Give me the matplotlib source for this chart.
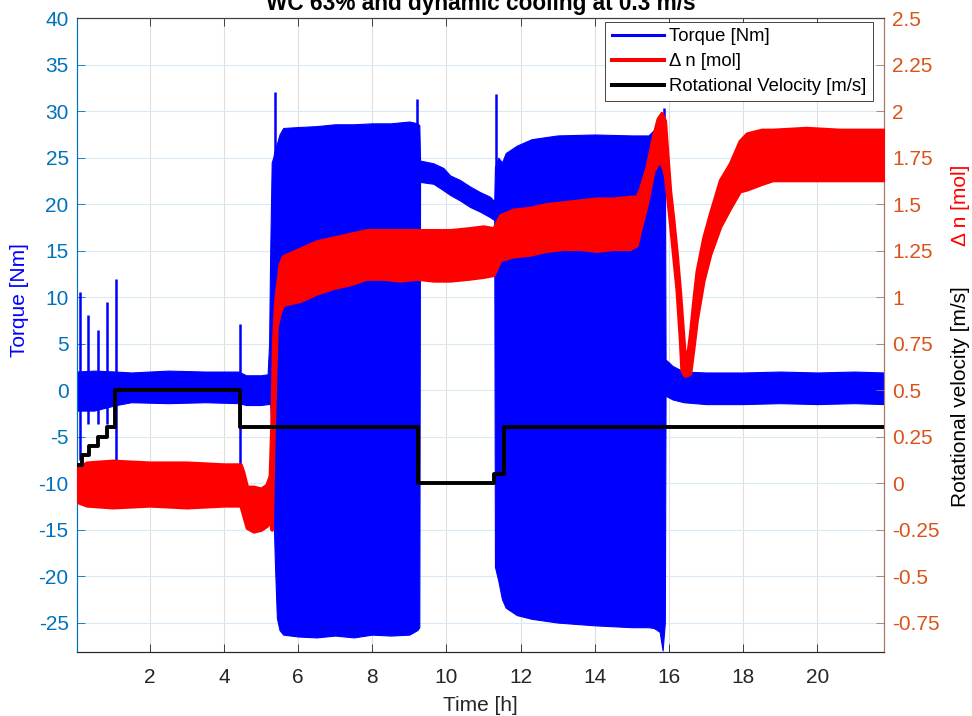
import matplotlib
matplotlib.use('Agg')
import matplotlib.pyplot as plt
from matplotlib.lines import Line2D

plt.rcParams['font.family'] = ['Liberation Sans', 'DejaVu Sans']
plt.rcParams['axes.unicode_minus'] = False

# ---------------- data ----------------
# Torque [Nm]: envelope of the dense oscillating signal
torque_t = [0.04, 0.5, 1.1, 1.5, 2.5, 3.5, 4.4, 4.6, 5.0, 5.18, 5.22, 5.25, 5.29, 5.33,
            5.38, 5.43, 5.5, 5.6, 6.0, 6.5, 7.0, 7.5, 8.0, 8.5, 9.0, 9.22, 9.27,
            9.29, 9.65, 9.92, 10.10, 10.37, 10.64, 10.91, 11.18, 11.29,
            11.31, 11.4, 11.5, 11.6, 11.9, 12.3, 13.0, 14.0, 15.0, 15.45, 15.6,
            15.75, 15.83, 15.89, 15.91, 16.1, 16.4, 17.0, 18.0, 19.0, 20.0, 21.0, 21.8]
torque_hi = [2.0, 2.1, 2.0, 1.9, 2.1, 2.0, 2.0, 1.6, 1.6, 1.7, 5.0, 15.0, 24.5, 25.0,
             26.0, 26.5, 27.5, 28.2, 28.3, 28.4, 28.6, 28.6, 28.7, 28.7, 28.9, 28.7, 28.5,
             24.7, 24.4, 23.9, 23.1, 22.6, 21.9, 21.3, 20.8, 20.3,
             24.0, 25.0, 24.5, 25.5, 26.3, 27.0, 27.4, 27.5, 27.4, 27.4, 28.0,
             29.0, 29.5, 28.5, 3.3, 2.6, 2.0, 1.9, 1.9, 2.0, 1.9, 2.0, 1.9]
torque_lo = [-2.2, -2.2, -1.6, -1.3, -1.4, -1.3, -1.4, -1.6, -1.6, -1.5, -1.5, -1.5, -5.0, -12.0,
             -19.0, -24.5, -25.8, -26.3, -26.5, -26.6, -26.4, -26.6, -26.3, -26.4, -26.3, -25.8, -25.5,
             22.4, 22.2, 21.5, 21.0, 20.4, 19.7, 19.2, 18.6, 18.3,
             -19.0, -20.5, -22.5, -23.4, -24.2, -24.6, -25.0, -25.3, -25.5, -25.5, -25.6,
             -26.0, -28.0, -25.0, -0.6, -1.0, -1.3, -1.5, -1.5, -1.4, -1.5, -1.4, -1.5]
# Torque [Nm]: isolated spikes
spike_t = [0.11, 0.35, 0.60, 0.84, 1.08, 4.44, 5.38, 9.22, 11.33, 15.86]
spike_hi = [10.6, 8.1, 6.5, 9.5, 12.0, 7.1, 32.1, 31.3, 31.9, 30.3]
spike_lo = [-7.5, -3.6, -3.6, -3.6, -7.6, -8.5, 25.0, 25.0, 23.0, 25.0]

# Delta n [mol]: envelope
dn_t = [0.04, 0.3, 1.0, 2.0, 3.0, 4.0, 4.45, 4.52, 4.62, 4.8, 5.0, 5.15, 5.24, 5.29,
        5.33, 5.38, 5.42, 5.51, 5.60, 6.05, 6.50, 6.95, 7.40, 7.85, 8.30, 8.75, 9.20,
        9.65, 10.10, 10.6, 11.0, 11.27, 11.45, 11.8, 12.26, 12.7, 13.15, 13.6, 14.05,
        14.5, 14.95, 15.13, 15.22, 15.40, 15.58, 15.70, 15.80, 15.89, 15.94, 16.03,
        16.12, 16.21, 16.30, 16.34, 16.41, 16.48, 16.57, 16.66, 16.75, 16.93, 17.11,
        17.38, 17.65, 17.91, 18.1, 18.5, 18.8, 19.7, 20.6, 21.8]
dn_hi = [0.08, 0.11, 0.12, 0.11, 0.11, 0.10, 0.10, 0.06, -0.02, -0.02, -0.03, -0.01, 0.04, 0.36,
         0.76, 0.96, 1.04, 1.18, 1.22, 1.26, 1.30, 1.32, 1.34, 1.36, 1.36, 1.36, 1.36,
         1.36, 1.36, 1.37, 1.38, 1.37, 1.44, 1.47, 1.48, 1.50, 1.51, 1.52, 1.53,
         1.53, 1.54, 1.54, 1.58, 1.70, 1.87, 1.96, 1.99, 1.95, 1.81, 1.57,
         1.41, 1.23, 1.02, 0.91, 0.72, 0.66, 0.80, 0.98, 1.14, 1.32, 1.45,
         1.63, 1.72, 1.84, 1.88, 1.90, 1.90, 1.91, 1.90, 1.90]
dn_lo = [-0.10, -0.12, -0.13, -0.12, -0.13, -0.12, -0.12, -0.17, -0.24, -0.26, -0.25, -0.23, -0.20, -0.25,
         0.19, 0.56, 0.84, 0.92, 0.96, 0.98, 1.02, 1.05, 1.07, 1.10, 1.10, 1.09, 1.10,
         1.09, 1.09, 1.10, 1.11, 1.12, 1.20, 1.22, 1.23, 1.25, 1.26, 1.26, 1.25,
         1.26, 1.26, 1.28, 1.36, 1.50, 1.68, 1.72, 1.72, 1.66, 1.57, 1.40,
         1.22, 1.04, 0.77, 0.61, 0.58, 0.58, 0.59, 0.73, 0.88, 1.09, 1.23,
         1.38, 1.48, 1.57, 1.58, 1.61, 1.63, 1.63, 1.63, 1.63]

# Rotational velocity [m/s]: step signal
vel_t = [0.05, 0.17, 0.37, 0.61, 0.84, 1.07, 4.44, 9.24, 11.28, 11.55, 21.8]
vel_v = [0.1, 0.15, 0.2, 0.25, 0.3, 0.5, 0.3, 0.0, 0.05, 0.3, 0.3]

x_ticks = [2, 4, 6, 8, 10, 12, 14, 16, 18, 20]
left_ticks = [-25, -20, -15, -10, -5, 0, 5, 10, 15, 20, 25, 30, 35, 40]
right_ticks = [-0.75, -0.5, -0.25, 0, 0.25, 0.5, 0.75, 1, 1.25, 1.5, 1.75, 2, 2.25, 2.5]

# ---------------- styling ----------------
BLUE = '#0000FF'
RED = '#FF0000'
LEFT_C = '#0072BD'
RIGHT_C = '#D95319'
AX_C = '#262626'

fig = plt.figure(figsize=(9.72, 7.16), dpi=100)
ax = fig.add_axes([77 / 972, (716 - 652.3) / 716, 807 / 972, 634 / 716])
ax2 = ax.twinx()

ax.fill_between(torque_t, torque_lo, torque_hi, color=BLUE, lw=0.8, edgecolor=BLUE, zorder=2)
ax.vlines(spike_t, spike_lo, spike_hi, color=BLUE, lw=1.8, zorder=2)

ax2.fill_between(dn_t, dn_lo, dn_hi, color=RED, lw=2.5, edgecolor=RED, zorder=3)
ax2.step(vel_t, vel_v, where='post', color='black', lw=2.8, zorder=4)

ax.set_xlim(0.04, 21.8)
ax.set_ylim(-28.2, 40)
ax2.set_ylim(-28.2 / 20 + 0.5, 2.5)

ax.set_xticks(x_ticks)
ax.set_yticks(left_ticks)
ax2.set_yticks(right_ticks)
ax2.set_yticklabels(['%g' % v for v in right_ticks])

fs = 15
ax.tick_params(axis='x', direction='in', length=6, width=0.6, color=AX_C,
               labelcolor=AX_C, labelsize=fs, pad=11, top=True)
ax.tick_params(axis='y', direction='in', length=6, width=0.6, color=LEFT_C,
               labelcolor=LEFT_C, labelsize=fs, pad=6)
ax2.tick_params(axis='y', direction='in', length=6, width=0.6, color='#A8776A',
                labelcolor=RIGHT_C, labelsize=fs, pad=6)

for a in (ax, ax2):
    a.spines['top'].set_color('#404040')
    a.spines['bottom'].set_color(AX_C)
    a.spines['left'].set_color(LEFT_C)
    a.spines['right'].set_color('#A8776A')
    for s in a.spines.values():
        s.set_linewidth(0.8)

ax.grid(True, axis='y', color='#D9EAF5', lw=0.8, zorder=0)
ax.grid(True, axis='x', color='#DEDEDE', lw=0.8, zorder=0)
ax.set_axisbelow(True)

ax.set_xlabel('Time [h]', fontsize=fs, color=AX_C, labelpad=7)
ax.set_ylabel('Torque [Nm]', fontsize=fs, color=BLUE)
ax.yaxis.set_label_coords((29 - 77) / 807, (652.3 - 300) / 634)

fig.text(960 / 972, 1 - 397 / 716, 'Rotational velocity [m/s]', rotation=90,
         ha='center', va='center', fontsize=fs, color='black')
fig.text(960 / 972, 1 - 205 / 716, '\u0394 n [mol]', rotation=90,
         ha='center', va='center', fontsize=fs, color=RED)

fig.text(0.4945, 1 - 10 / 716, 'WC 63% and dynamic cooling at 0.3 m/s',
         ha='center', va='baseline', fontsize=16.3, fontweight='bold', color='black')

handles = [Line2D([], [], color=BLUE, lw=2.2),
           Line2D([], [], color=RED, lw=2.9),
           Line2D([], [], color='black', lw=2.9)]
labels = ['Torque [Nm]', '\u0394 n [mol]', 'Rotational Velocity [m/s]']
leg = ax2.legend(handles, labels, loc='upper right',
                 bbox_to_anchor=((873 - 77) / 807, (652.3 - 22) / 634),
                 borderaxespad=0, fontsize=13.3, fancybox=False, framealpha=1,
                 edgecolor=AX_C, handlelength=2.8, labelspacing=0.42,
                 borderpad=0.35, handletextpad=0.3)
leg.get_frame().set_linewidth(0.6)

fig.savefig('out.png', dpi=100)
